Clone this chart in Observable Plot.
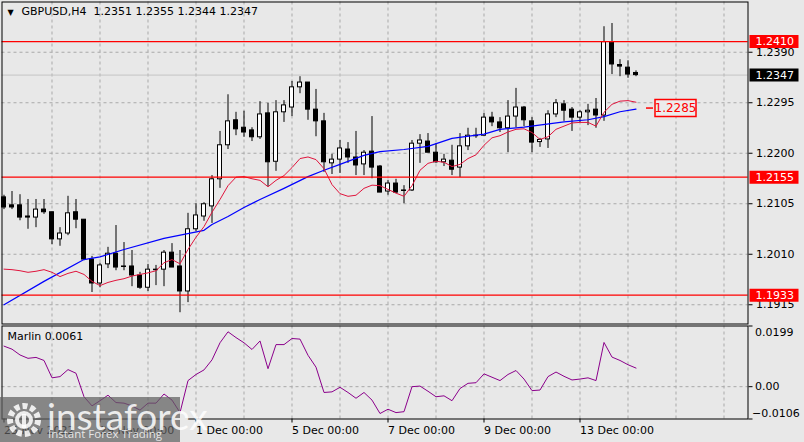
<!DOCTYPE html>
<html><head><meta charset="utf-8">
<script src="https://cdn.jsdelivr.net/npm/d3@7"></script>
<script src="https://cdn.jsdelivr.net/npm/@observablehq/plot@0.6"></script>
<style>
html,body{margin:0;padding:0;background:#e8e8e8;}
#wrap{position:relative;width:804px;height:442px;overflow:hidden;background:#e8e8e8;font-family:"DejaVu Sans",sans-serif;}
#main{position:absolute;left:0;top:0;}
#osc{position:absolute;left:0;top:324px;}
#wm{position:absolute;left:0;top:397px;width:180px;height:45px;background:rgba(95,95,95,0.72);}
#wm .big{position:absolute;left:47px;top:-4px;font-family:Lato,"Open Sans",sans-serif;font-size:37px;color:rgba(255,255,255,0.85);letter-spacing:0px;}
#wm .small{position:absolute;left:48px;top:29px;font-family:"Open Sans",sans-serif;font-size:11.5px;color:rgba(255,255,255,0.8);}
#wm svg{position:absolute;left:4px;top:3px;}
</style></head>
<body><div id="wrap"><div id="main"></div><div id="osc"></div>
<div id="wm"><svg width="40" height="40"><circle cx="20" cy="20" r="14" fill="none" stroke="rgba(255,255,255,0.85)" stroke-width="6" stroke-dasharray="5,3"/><circle cx="20" cy="20" r="7" fill="none" stroke="rgba(255,255,255,0.85)" stroke-width="4"/><rect x="18" y="14" width="4" height="14" fill="rgba(255,255,255,0.85)"/></svg><div class="big">instaforex</div><div class="small">Instant Forex Trading</div></div>
</div>
<script>
// ---- data (GBPUSD H4, candle index 0 = 25 Nov 2022 00:00) ----
const open = [1.2117,1.2102,1.2102,1.2081,1.2079,1.2094,1.2089,1.2038,1.2049,1.2089,
1.2075,1.2000,1.1955,1.1991,1.2011,1.1987,1.1987,1.1970,1.1947,1.1980,
1.1981,1.2013,1.1987,1.1940,1.2057,1.2081,1.2100,1.2151,1.2215,1.2262,
1.2248,1.2243,1.2230,1.2275,1.2184,1.2277,1.2286,1.2324,1.2333,1.2282,
1.2260,1.2181,1.2188,1.2207,1.2192,1.2179,1.2203,1.2175,1.2128,1.2143,
1.2130,1.2130,1.2218,1.2222,1.2201,1.2183,1.2186,1.2173,1.2213,1.2233,
1.2233,1.2267,1.2258,1.2247,1.2269,1.2286,1.2260,1.2221,1.2226,1.2273,
1.2292,1.2282,1.2267,1.2277,1.2282,1.2271,1.2408,1.2366,1.2361,1.2351];
const high = [1.2121,1.2128,1.2122,1.2113,1.2113,1.2113,1.2089,1.2060,1.2119,1.2113,
1.2075,1.2006,1.1993,1.2023,1.2064,1.2032,1.2017,1.1976,1.1991,1.1989,
1.2017,1.2030,1.2017,1.2087,1.2105,1.2107,1.2158,1.2241,1.2310,1.2277,
1.2279,1.2248,1.2297,1.2294,1.2299,1.2299,1.2335,1.2344,1.2333,1.2320,
1.2275,1.2198,1.2224,1.2220,1.2241,1.2205,1.2269,1.2177,1.2149,1.2151,
1.2139,1.2224,1.2235,1.2237,1.2218,1.2198,1.2215,1.2237,1.2247,1.2247,
1.2275,1.2277,1.2267,1.2299,1.2322,1.2288,1.2267,1.2228,1.2280,1.2301,
1.2299,1.2286,1.2280,1.2292,1.2303,1.2438,1.2444,1.2376,1.2374,1.2355];
const low = [1.2094,1.2094,1.2073,1.2057,1.2060,1.2085,1.2028,1.2025,1.2045,1.2058,
1.1998,1.1938,1.1947,1.1983,1.1979,1.1979,1.1949,1.1944,1.1940,1.1951,
1.1949,1.1985,1.1900,1.1919,1.2053,1.2072,1.2068,1.2134,1.2207,1.2233,
1.2230,1.2222,1.2226,1.2137,1.2166,1.2258,1.2269,1.2312,1.2262,1.2231,
1.2164,1.2160,1.2162,1.2181,1.2158,1.2158,1.2152,1.2126,1.2121,1.2124,
1.2105,1.2128,1.2181,1.2201,1.2181,1.2175,1.2158,1.2154,1.2205,1.2228,
1.2232,1.2250,1.2239,1.2201,1.2248,1.2250,1.2201,1.2211,1.2209,1.2267,
1.2260,1.2241,1.2258,1.2252,1.2247,1.2260,1.2348,1.2344,1.2341,1.2344];
const close = [1.2098,1.2098,1.2079,1.2079,1.2094,1.2089,1.2038,1.2049,1.2087,1.2075,
1.2000,1.1955,1.1989,1.2011,1.1985,1.1986,1.1970,1.1947,1.1981,1.1981,
1.2013,1.1985,1.1940,1.2057,1.2083,1.2104,1.2151,1.2215,1.2260,1.2245,
1.2239,1.2230,1.2273,1.2183,1.2277,1.2290,1.2324,1.2333,1.2282,1.2260,
1.2183,1.2188,1.2209,1.2192,1.2177,1.2201,1.2173,1.2126,1.2143,1.2126,
1.2129,1.2218,1.2224,1.2201,1.2183,1.2188,1.2169,1.2213,1.2233,1.2232,
1.2267,1.2258,1.2247,1.2269,1.2286,1.2262,1.2220,1.2225,1.2273,1.2294,
1.2280,1.2267,1.2277,1.2280,1.2271,1.2409,1.2367,1.2363,1.2348,1.2347];
// fast MA (red)
const fastMA = [1.1982,1.1981,1.1979,1.1976,1.1978,1.1981,1.1976,1.1968,1.1974,1.1978,
1.1972,1.1959,1.1951,1.1957,1.1961,1.1964,1.1969,1.1972,1.1975,1.1979,
1.1994,1.2000,1.1992,1.2019,1.2042,1.2062,1.2089,1.2113,1.2139,1.2155,
1.2156,1.2152,1.2149,1.2137,1.2149,1.2158,1.2173,1.2190,1.2193,1.2188,
1.2171,1.2141,1.2124,1.2119,1.2121,1.2134,1.2140,1.2139,1.2132,1.2125,
1.2119,1.2139,1.2168,1.2181,1.2185,1.2183,1.2175,1.2179,1.2190,1.2197,
1.2215,1.2229,1.2233,1.2240,1.2245,1.2246,1.2239,1.2226,1.2231,1.2245,
1.2251,1.2257,1.2258,1.2258,1.2251,1.2277,1.2292,1.2298,1.2299,1.2296];
// slow MA (blue), read at these candle indices
const slowIdx = [0,5,10,12,15,20,25,26,28,30,32,35,38,40,42,45,47,50,53,56,60,62,65,70,73,75,77,79];
const slowMA = [1.1915,1.1959,1.2000,1.2005,1.2019,1.2040,1.2055,1.2066,1.2081,1.2098,1.2113,1.2134,1.2156,1.2168,1.2179,1.2196,1.2203,1.2207,1.2213,1.2228,1.2236,1.2245,1.2249,1.2259,1.2263,1.2269,1.2278,1.2283];
// Marlin oscillator
const marlin = [0.0133,0.0123,0.0104,0.0093,0.0096,0.0086,0.0029,0.0033,0.0056,0.0044,
-0.0033,-0.0063,-0.0046,-0.0028,-0.0052,-0.0054,-0.0063,-0.0077,-0.0054,-0.0054,
-0.0024,-0.0044,-0.0085,0.0020,0.0040,0.0055,0.0088,0.0144,0.0180,0.0161,
0.0144,0.0122,0.0150,0.0059,0.0138,0.0138,0.0158,0.0156,0.0103,0.0064,
-0.0019,-0.0017,-0.0002,-0.0019,-0.0038,-0.0019,-0.0044,-0.0088,-0.0074,-0.0085,
-0.0082,0.0000,0.0002,-0.0015,-0.0033,-0.0030,-0.0046,-0.0006,0.0011,0.0013,
0.0042,0.0031,0.0020,0.0040,0.0053,0.0025,-0.0013,-0.0011,0.0033,0.0048,
0.0034,0.0022,0.0025,0.0029,0.0020,0.0145,0.0097,0.0086,0.0072,0.0061];
// levels, axis ticks, labels
const levels = [1.2410, 1.2155, 1.1933];
const bid = 1.2347;
const maLabel = {i: 79, value: 1.2285};
const priceTicks = [1.2390, 1.2295, 1.2200, 1.2105, 1.2010, 1.1915];
const gridIdx = [6,12,18,24,30,36,42,48,54,60,66,72,78,84,90];
const timeIdx = [0,12,24,36,48,60,72];
const timeLabels = ["25 Nov 2022","29 Nov 00:00","1 Dec 00:00","5 Dec 00:00","7 Dec 00:00","9 Dec 00:00","13 Dec 00:00"];
const oscTicks = {top: 0.0199, zero: 0.00, bottom: -0.0106};
const headerSymbol = "GBPUSD,H4";
const headerOHLC = [1.2351, 1.2355, 1.2344, 1.2347];
const marlinLast = 0.0061;

// ---- build ----
const candles = open.map((o, i) => ({i, open: o, high: high[i], low: low[i], close: close[i]}));
const fastData = fastMA.map((v, i) => ({i, v}));
const slowData = slowIdx.map((i, j) => ({i, v: slowMA[j]}));
const marlinData = marlin.map((v, i) => ({i, v}));
const f4 = d3.format(".4f");
const dash = {stroke: "#a9a9a9", strokeDasharray: "3,3"};
const box = (w, h) => ({draw(ctx) {ctx.moveTo(-w/2, -h/2); ctx.lineTo(w/2, -h/2); ctx.lineTo(w/2, h/2); ctx.lineTo(-w/2, h/2); ctx.closePath();}});
const hline = (w) => ({draw(ctx) {ctx.moveTo(-w/2, 0); ctx.lineTo(w/2, 0);}});
const xDomain = [-0.25, 93];
const baseStyle = {background: "transparent", overflow: "visible", fontFamily: "'DejaVu Sans', sans-serif", fontSize: "11px", color: "black"};

const main = Plot.plot({
  width: 804, height: 324,
  marginLeft: 1.5, marginRight: 56.5, marginTop: 1.5, marginBottom: 0.5,
  x: {type: "linear", domain: xDomain, axis: null, label: null},
  y: {domain: [1.18788, 1.24845], axis: null, label: null},
  style: baseStyle,
  marks: [
    Plot.ruleY(priceTicks, dash),
    Plot.ruleX(gridIdx, dash),
    Plot.ruleY([bid], {stroke: "#c4c4c4"}),
    Plot.ruleX(candles, {x: "i", y1: "low", y2: "high", stroke: "black"}),
    Plot.rect(candles, {x1: d => d.i - 0.25, x2: d => d.i + 0.25, y1: "open", y2: "close",
      fill: d => d.close >= d.open ? "white" : "black", stroke: "black"}),
    Plot.line(slowData, {x: "i", y: "v", stroke: "#0000ff", strokeWidth: 1.2}),
    Plot.line(fastData, {x: "i", y: "v", stroke: "#e0143c", strokeWidth: 1}),
    Plot.ruleY(levels, {stroke: "#ff0000", strokeWidth: 1.2}),
    Plot.axisY({anchor: "right", ticks: priceTicks, tickSize: 4, tickPadding: 4, tickFormat: f4, fontSize: 11, fill: "black", label: null}),
    Plot.frame({stroke: "black"}),
    // right-axis price boxes
    Plot.dot(levels, {y: d => d, frameAnchor: "right", dx: 26, symbol: box(49, 13), fill: "#ff0000", stroke: "none", r: 5}),
    Plot.text(levels, {y: d => d, text: d => f4(d), frameAnchor: "right", textAnchor: "start", dx: 7.5, fill: "white", fontSize: 11}),
    Plot.dot([bid], {y: d => d, frameAnchor: "right", dx: 26, symbol: box(49, 13), fill: "black", stroke: "none", r: 5}),
    Plot.text([bid], {y: d => d, text: d => f4(d), frameAnchor: "right", textAnchor: "start", dx: 7.5, fill: "white", fontSize: 11}),
    // MA value label
    Plot.dot([maLabel], {x: "i", y: "value", dx: 13.5, symbol: hline(7), stroke: "#ff0000", fill: "none", r: 3}),
    Plot.dot([maLabel], {x: "i", y: "value", dx: 39.5, symbol: box(41, 17), stroke: "#ff0000", fill: "#ececec", r: 5}),
    Plot.text([maLabel], {x: "i", y: "value", dx: 39.5, text: d => f4(d.value), fill: "#ff0000", fontSize: 12}),
    // header
    Plot.text(["\u25BC"], {frameAnchor: "top-left", dx: 5.5, dy: 7, lineAnchor: "top", fontSize: 8, fill: "black"}),
    Plot.text([headerSymbol + "\u00a0\u00a0" + headerOHLC.map(f4).join(" ")], {frameAnchor: "top-left", dx: 19.5, dy: 5.5, lineAnchor: "top", textAnchor: "start", fill: "black", fontSize: 11})
  ]
});
document.getElementById("main").appendChild(main);

const osc = Plot.plot({
  width: 804, height: 118,
  marginLeft: 1.5, marginRight: 56.5, marginTop: 1.5, marginBottom: 23.5,
  x: {type: "linear", domain: xDomain, axis: null, label: null},
  y: {domain: [oscTicks.bottom, oscTicks.top], axis: null, label: null},
  style: baseStyle,
  marks: [
    Plot.ruleY([oscTicks.zero], dash),
    Plot.ruleX(gridIdx, dash),
    Plot.line(marlinData, {x: "i", y: "v", stroke: "#8b008b", strokeWidth: 1}),
    Plot.frame({stroke: "black"}),
    Plot.axisX({anchor: "bottom", ticks: timeIdx, tickSize: 4, tickPadding: 3, textAnchor: "start", label: null,
      tickFormat: d => timeLabels[timeIdx.indexOf(d)], fontSize: 11, fill: "black"}),
    Plot.axisY({anchor: "right", ticks: [oscTicks.top, oscTicks.zero, oscTicks.bottom], tickSize: 4, tickFormat: () => "", label: null}),
    Plot.text([oscTicks.top], {y: d => d, text: d => f4(d), frameAnchor: "right", textAnchor: "start", dx: 7, dy: 2.5, lineAnchor: "top", fill: "black", fontSize: 11}),
    Plot.text([oscTicks.zero], {y: d => d, text: d => d.toFixed(2), frameAnchor: "right", textAnchor: "start", dx: 7, fill: "black", fontSize: 11}),
    Plot.text([oscTicks.bottom], {y: d => d, text: d => f4(d), frameAnchor: "right", textAnchor: "start", dx: 4, dy: -2.5, lineAnchor: "bottom", fill: "black", fontSize: 11}),
    Plot.text(["Marlin " + f4(marlinLast)], {frameAnchor: "top-left", dx: 5.5, dy: 6, lineAnchor: "top", textAnchor: "start", fill: "black", fontSize: 11})
  ]
});
document.getElementById("osc").appendChild(osc);
</script>
</body></html>
